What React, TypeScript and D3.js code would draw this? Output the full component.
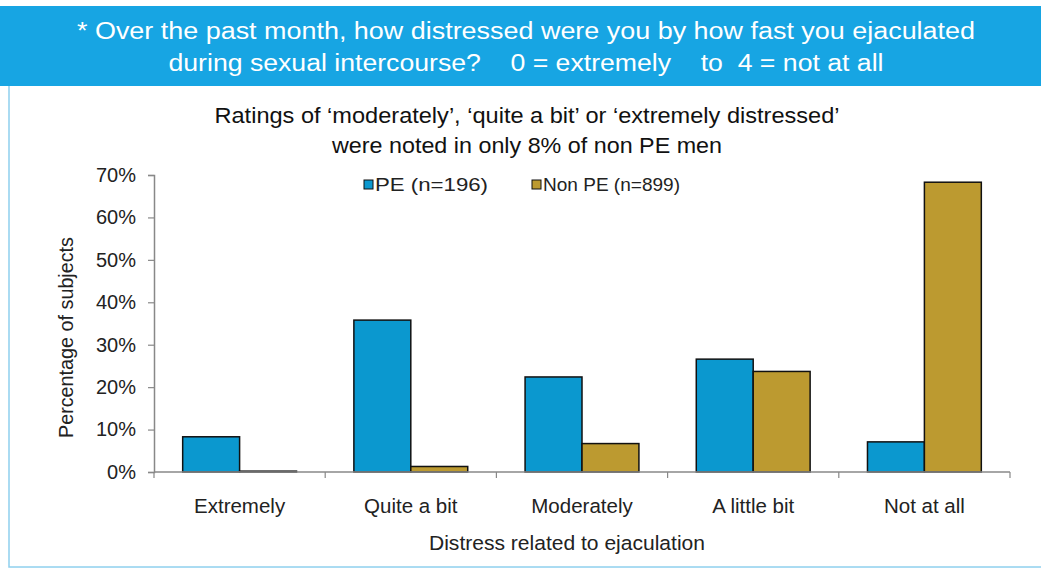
import { useEffect, useRef } from 'react';
import * as d3 from 'd3';

const categories = ['Extremely', 'Quite a bit', 'Moderately', 'A little bit', 'Not at all'];
const seriesNames = ['PE (n=196)', 'Non PE (n=899)'];
const peValues = [8.3, 35.8, 22.4, 26.6, 7.1];
const nonPeValues = [0.2, 1.3, 6.7, 23.7, 68.3];
const yTicks = [0, 10, 20, 30, 40, 50, 60, 70];
const headerLines = [
  '* Over the past month, how distressed were you by how fast you ejaculated',
  'during sexual intercourse?    0 = extremely    to  4 = not at all',
];
const titleLines = [
  'Ratings of \u2018moderately\u2019, \u2018quite a bit\u2019 or \u2018extremely distressed\u2019',
  'were noted in only 8% of non PE men',
];

const colors = ['#0b98cf', '#bc9a30'];
const font = '"Liberation Sans", Arial, sans-serif';

export default function App() {
  const svgRef = useRef<SVGSVGElement>(null);

  useEffect(() => {
    if (!svgRef.current) return;
    const svg = d3.select(svgRef.current);
    svg.selectAll('*').remove();

    const width = 1041;
    const height = 571;

    svg.append('rect').attr('width', width).attr('height', height).attr('fill', '#fff');

    // panel border
    svg.append('rect')
      .attr('x', 9).attr('y', 80).attr('width', width + 10).attr('height', 487)
      .attr('fill', 'none').attr('stroke', '#8fd0ee').attr('stroke-width', 1.5);

    // header band
    svg.append('rect')
      .attr('x', 0).attr('y', 6).attr('width', width).attr('height', 80)
      .attr('fill', '#17a5e3');

    const headerW = [898, 715];
    headerLines.forEach((t, i) => {
      svg.append('text')
        .attr('x', 526).attr('y', 38.5 + i * 32)
        .attr('text-anchor', 'middle')
        .attr('font-family', font).attr('font-size', 23)
        .attr('fill', '#fff')
        .attr('textLength', headerW[i]).attr('lengthAdjust', 'spacingAndGlyphs')
        .style('white-space', 'pre')
        .text(t);
    });

    const titleW = [625, 390];
    titleLines.forEach((t, i) => {
      svg.append('text')
        .attr('x', 527).attr('y', 122.5 + i * 30.5)
        .attr('text-anchor', 'middle')
        .attr('font-family', font).attr('font-size', 21.5)
        .attr('fill', '#111')
        .attr('textLength', titleW[i]).attr('lengthAdjust', 'spacingAndGlyphs')
        .text(t);
    });

    const margin = { left: 154, right: 31, top: 175, bottom: 99 };
    const innerW = width - margin.left - margin.right;
    const innerH = height - margin.top - margin.bottom;

    const g = svg.append('g').attr('transform', `translate(${margin.left},${margin.top})`);

    const x0 = d3.scaleBand().domain(categories).range([0, innerW]).paddingInner(0.335).paddingOuter(0.1675);
    const x1 = d3.scaleBand().domain(seriesNames).range([0, x0.bandwidth()]);
    const y = d3.scaleLinear().domain([0, 70]).range([innerH, 0]);

    // y axis
    const yAxis = g.append('g').call(
      d3.axisLeft(y).tickValues(yTicks).tickFormat(d => `${d}%`).tickSize(6).tickPadding(12)
    );
    yAxis.select('.domain').attr('stroke', '#888').attr('stroke-width', 1.5);
    yAxis.selectAll('.tick line').attr('stroke', '#888').attr('stroke-width', 1.2);
    yAxis.selectAll('.tick text')
      .attr('font-family', font).attr('font-size', 20).attr('fill', '#222');

    // bars
    const data = [peValues, nonPeValues];
    categories.forEach((c, ci) => {
      seriesNames.forEach((s, si) => {
        const v = data[si][ci];
        g.append('rect')
          .attr('x', (x0(c) ?? 0) + (x1(s) ?? 0))
          .attr('y', y(v))
          .attr('width', x1.bandwidth())
          .attr('height', innerH - y(v))
          .attr('fill', colors[si])
          .attr('stroke', '#111')
          .attr('stroke-width', 1.5);
      });
    });

    // x axis
    const xAxis = g.append('g').attr('transform', `translate(0,${innerH})`);
    xAxis.append('line').attr('x1', 0).attr('x2', innerW).attr('stroke', '#888').attr('stroke-width', 1.5);
    const boundaries = d3.range(categories.length + 1).map(i => (innerW / categories.length) * i);
    xAxis.selectAll('.xt').data(boundaries).join('line')
      .attr('x1', d => d).attr('x2', d => d).attr('y1', 0).attr('y2', 6)
      .attr('stroke', '#888').attr('stroke-width', 1.2);
    xAxis.selectAll('.xl').data(categories).join('text')
      .attr('x', d => (x0(d) ?? 0) + x0.bandwidth() / 2)
      .attr('y', 41)
      .attr('text-anchor', 'middle')
      .attr('font-family', font).attr('font-size', 20.5).attr('fill', '#222')
      .text(d => d);

    // axis titles
    svg.append('text')
      .attr('x', 567).attr('y', 550)
      .attr('text-anchor', 'middle')
      .attr('font-family', font).attr('font-size', 20.5).attr('fill', '#222')
      .attr('textLength', 276).attr('lengthAdjust', 'spacingAndGlyphs')
      .text('Distress related to ejaculation');

    svg.append('text')
      .attr('transform', `translate(73,337.5) rotate(-90)`)
      .attr('text-anchor', 'middle')
      .attr('font-family', font).attr('font-size', 20).attr('fill', '#222')
      .attr('textLength', 201).attr('lengthAdjust', 'spacingAndGlyphs')
      .text('Percentage of subjects');

    // legend
    const legendX = [364, 532];
    const legendW = [113, 137];
    seriesNames.forEach((s, i) => {
      const lg = svg.append('g').attr('transform', `translate(${legendX[i]},191)`);
      lg.append('rect').attr('x', 0).attr('y', -11).attr('width', 9).attr('height', 9)
        .attr('fill', colors[i]).attr('stroke', '#111').attr('stroke-width', 1);
      lg.append('text').attr('x', 11).attr('y', 0)
        .attr('font-family', font).attr('font-size', 18.5).attr('fill', '#222')
        .attr('textLength', legendW[i]).attr('lengthAdjust', 'spacingAndGlyphs')
        .text(s);
    });
  }, []);

  return (
    <svg
      ref={svgRef}
      width={1041}
      height={571}
      style={{ position: 'absolute', left: 0, top: 0, display: 'block' }}
    />
  );
}
